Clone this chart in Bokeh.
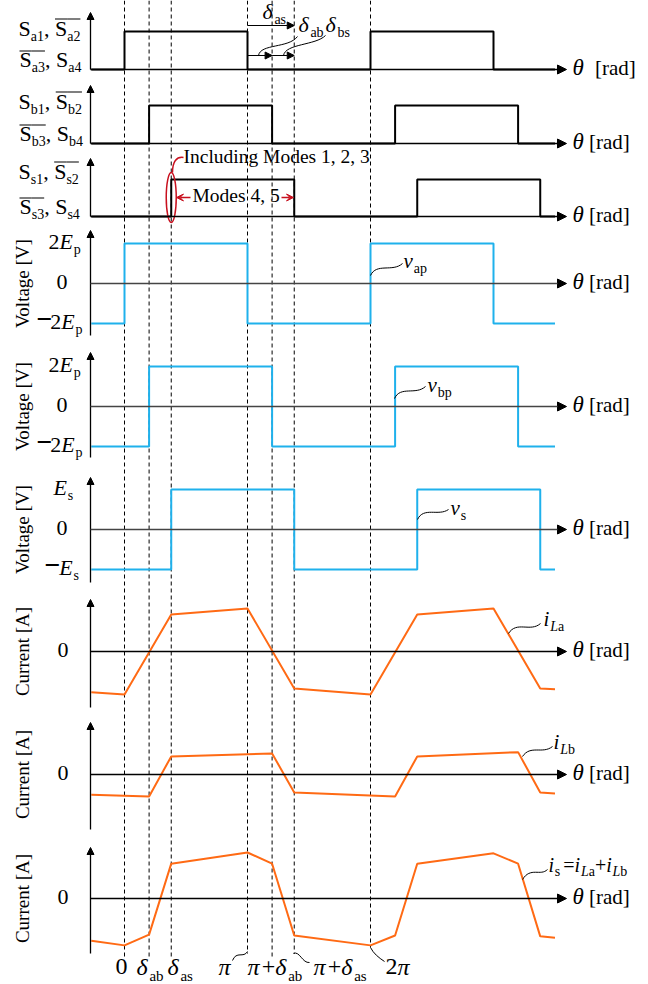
import math
from bokeh.plotting import figure
from bokeh.models import Range1d, Arrow, NormalHead, VeeHead
from bokeh.core.properties import value
from bokeh.embed import file_html
from bokeh.resources import INLINE

# ---------------- data (theta in units of pi) ----------------
D_AB = 0.2
D_AS = 0.38
TH_START = -0.27
TH_END = 3.5

mark_theta = [0, D_AB, D_AS, 1, 1 + D_AB, 1 + D_AS, 2]

sa_edges = [TH_START, 0, 1, 2, 3, TH_END]
sb_edges = [TH_START, D_AB, 1 + D_AB, 2 + D_AB, 3 + D_AB, TH_END]
ss_edges = [TH_START, D_AS, 1 + D_AS, 2 + D_AS, 3 + D_AS, TH_END]
sa_level = [0, 1, 0, 1, 0, 0]
sb_level = [0, 1, 0, 1, 0, 0]
ss_level = [0, 1, 0, 1, 0, 0]

vap_level = [-2, 2, -2, 2, -2, -2]   # multiples of Ep
vbp_level = [-2, 2, -2, 2, -2, -2]   # multiples of Ep
vs_level = [-1, 1, -1, 1, -1, -1]    # multiples of Es

ila_theta = [TH_START, 0, D_AS, 1, 1 + D_AS, 2, 2 + D_AS, 3, 3 + D_AS, TH_END]
ila_val = [-0.95, -1.0, 0.86, 1.0, -0.86, -1.0, 0.86, 1.0, -0.86, -0.88]
ilb_theta = [TH_START, D_AB, D_AS, 1 + D_AB, 1 + D_AS, 2 + D_AB, 2 + D_AS, 3 + D_AB, 3 + D_AS, TH_END]
ilb_val = [-0.47, -0.51, 0.42, 0.49, -0.42, -0.51, 0.42, 0.52, -0.42, -0.44]
is_theta = [TH_START, 0, D_AB, D_AS, 1, 1 + D_AB, 1 + D_AS, 2, 2 + D_AB, 2 + D_AS, 3, 3 + D_AB, 3 + D_AS, TH_END]
is_val = [-0.98, -1.09, -0.84, 0.81, 1.07, 0.81, -0.86, -1.09, -0.86, 0.81, 1.05, 0.81, -0.88, -0.91]

# ---------------- layout ----------------
W, H = 648, 984
X_ZERO_PX, PX_PER_PI = 124.0, 123.0
AXIS_X, ARROW_TIP = 90, 566
FONT = "Liberation Serif"
BLUE = "#1FB1EC"
ORANGE = "#FF6A14"
RED = "#C8101E"
TEXT_SHIFT = 0.4   # baseline correction (fraction of font size)

PANELS = {
    "sa": dict(base=69, amp=38, top=12, bot=69, col="black"),
    "sb": dict(base=143, amp=38, top=85, bot=143, col="black"),
    "ss": dict(base=216, amp=37, top=158, bot=216, col="black"),
    "vap": dict(base=283, amp=20, top=230, bot=335, col="#444444"),
    "vbp": dict(base=406, amp=20, top=352, bot=457, col="#444444"),
    "vs": dict(base=529, amp=40, top=477, bot=582, col="#444444"),
    "ila": dict(base=651, amp=43, top=599, bot=707, col="black"),
    "ilb": dict(base=774, amp=43, top=722, bot=829, col="black"),
    "is": dict(base=898, amp=43, top=847, bot=953, col="black"),
}

p = figure(width=W, height=H, x_range=Range1d(0, W), y_range=Range1d(H, 0),
           output_backend="svg", toolbar_location=None, min_border=0,
           x_axis_location=None, y_axis_location=None, outline_line_color=None)
p.grid.visible = False
p.extra_x_ranges = {"th": Range1d(-X_ZERO_PX / PX_PER_PI, (W - X_ZERO_PX) / PX_PER_PI)}
p.extra_y_ranges = {name: Range1d((sp["base"] - H) / sp["amp"], sp["base"] / sp["amp"])
                    for name, sp in PANELS.items()}

# ---------------- dashed guide lines ----------------
dash_end = [956, 956, 956, 953, 956, 953, 947]
p.segment(x0=mark_theta, y0=[0] * len(mark_theta), x1=mark_theta, y1=dash_end,
          x_range_name="th", line_color="black", line_width=1, line_dash="4 3")

# ---------------- axes ----------------
for name, sp in PANELS.items():
    p.add_layout(Arrow(x_start=AXIS_X, y_start=sp["bot"], x_end=AXIS_X, y_end=sp["top"],
                       line_color="black", line_width=1.3,
                       end=NormalHead(size=7, fill_color="black", line_color="black", line_width=1)))
    p.add_layout(Arrow(x_start=AXIS_X, y_start=sp["base"], x_end=ARROW_TIP, y_end=sp["base"],
                       line_color=sp["col"], line_width=1.3,
                       end=NormalHead(size=9, fill_color="black", line_color="black", line_width=1)))

# ---------------- waveforms ----------------
for edges, lvl, name in [(sa_edges, sa_level, "sa"), (sb_edges, sb_level, "sb"), (ss_edges, ss_level, "ss")]:
    p.step(edges, lvl, mode="after", x_range_name="th", y_range_name=name,
           line_color="black", line_width=2)
for edges, lvl, name in [(sa_edges, vap_level, "vap"), (sb_edges, vbp_level, "vbp"), (ss_edges, vs_level, "vs")]:
    p.step(edges, lvl, mode="after", x_range_name="th", y_range_name=name,
           line_color=BLUE, line_width=2)
for th, val, name in [(ila_theta, ila_val, "ila"), (ilb_theta, ilb_val, "ilb"), (is_theta, is_val, "is")]:
    p.line(th, val, x_range_name="th", y_range_name=name, line_color=ORANGE, line_width=2)

# ---------------- rich text helper ----------------
W_N = {" ": .25, ",": .25, "S": .556, "a": .444, "b": .5, "s": .389, "p": .5, "[": .333,
       "]": .333, "r": .333, "d": .5, "+": .564, "=": .564, "\u2212": .564, "I": .333,
       "n": .5, "c": .444, "l": .278, "u": .5, "i": .278, "g": .5, "M": .889, "o": .5,
       "e": .444, "V": .722, "t": .278, "C": .667, "A": .722}
W_I = {"E": .611, "v": .444, "i": .278, "L": .556, "\u03b8": .5, "\u03b4": .5, "\u03c0": .55, "s": .389}

texts = {}
overbars = dict(x0=[], x1=[], y=[])


def put(x, y, s, size, style="normal", color="black"):
    d = texts.setdefault((size, style, color), dict(x=[], y=[], text=[]))
    d["x"].append(x)
    d["y"].append(y - TEXT_SHIFT * size)
    d["text"].append(s)


def R(t, it=False, sub=False, over=False, bold=False, size=None):
    return dict(t=t, it=it, sub=sub, over=over, bold=bold, size=size)


def GAP(px):
    return dict(gap=px)


def rich(x, y, runs, size, sub_size=None, color="black", ob_dy=18.5):
    sub_size = sub_size or round(size * 0.64)
    cx = x
    for r in runs:
        if "gap" in r:
            cx += r["gap"]
            continue
        sz = r["size"] or (sub_size if r["sub"] else size)
        yy = y + (0.22 * size if r["sub"] else 0)
        style = "bold" if r["bold"] else ("italic" if r["it"] else "normal")
        put(cx, yy, r["t"], sz, style, color)
        tbl = W_I if r["it"] else W_N
        w = sum(tbl.get(c, W_N.get(c, .5)) for c in r["t"]) * sz
        if r["it"] and not r["sub"]:
            w += 0.04 * sz
        if r["over"]:
            overbars["x0"].append(cx)
            overbars["x1"].append(cx + w)
            overbars["y"].append(y - ob_dy)
        cx += w
    return cx


# switch labels
for k, b1, b2 in [("a", 37, 68), ("b", 110, 142), ("s", 180, 215)]:
    rich(18, b1, [R("S"), R(k + "1", sub=True), R(", "), R("S", over=True), R(k + "2", sub=True, over=True)], 22, 14)
    rich(19, b2, [R("S", over=True), R(k + "3", sub=True, over=True), R(", "), R("S"), R(k + "4", sub=True)], 22, 14, ob_dy=17.5)

# voltage tick labels
for name, hi_txt in [("vap", "2"), ("vbp", "2"), ("vs", "")]:
    sp = PANELS[name]
    top_v = 2 if hi_txt else 1
    yh = sp["base"] - top_v * sp["amp"] + 7
    yl = sp["base"] + top_v * sp["amp"] + 7
    sub = "p" if hi_txt else "s"
    if hi_txt:
        rich(48, yh, [R("2"), R("E", it=True), R(sub, sub=True)], 22, 14)
        rich(36, yl, [R("\u2212", bold=True, size=28), GAP(-2), R("2"), R("E", it=True), R(sub, sub=True)], 22, 14)
    else:
        rich(53, yh, [R("E", it=True), R(sub, sub=True)], 22, 14)
        rich(44, yl, [R("\u2212", bold=True, size=28), GAP(-1), R("E", it=True), R(sub, sub=True)], 22, 14)
    rich(56, sp["base"] + 7, [R("0")], 22)

for name in ["ila", "ilb", "is"]:
    rich(57, PANELS[name]["base"] + 7, [R("0")], 22)

# theta labels
for i, (name, sp) in enumerate(PANELS.items()):
    rich(572, sp["base"] + 7, [R("\u03b8", it=True, size=23), GAP(10 if i == 0 else 4), R("[rad]")], 21)

# signal labels
rich(403, 269, [R("v", it=True), R("ap", sub=True)], 21, 14)
rich(427, 393, [R("v", it=True), R("bp", sub=True)], 21, 14)
rich(450, 516, [R("v", it=True), R("s", sub=True)], 21, 14)
rich(543, 627, [R("i", it=True), R("L", it=True, sub=True), R("a", sub=True)], 21, 14)
rich(553, 750, [R("i", it=True), R("L", it=True, sub=True), R("b", sub=True)], 21, 14)
rich(548, 872, [R("i", it=True), R("s", sub=True), GAP(3), R("="), R("i", it=True), R("L", it=True, sub=True),
                R("a", sub=True), R("+"), R("i", it=True), R("L", it=True, sub=True), R("b", sub=True)], 20, 14)

# bottom theta labels
rich(115, 976, [R("0")], 24, 15)
rich(136, 976, [R("\u03b4", it=True), R("ab", sub=True)], 24, 15)
rich(167, 976, [R("\u03b4", it=True), R("as", sub=True)], 24, 15)
rich(218, 976, [R("\u03c0", it=True)], 24, 15)
rich(247, 976, [R("\u03c0", it=True), R("+"), R("\u03b4", it=True), R("ab", sub=True)], 24, 15)
rich(313, 976, [R("\u03c0", it=True), R("+"), R("\u03b4", it=True), R("as", sub=True)], 24, 15)
rich(385, 976, [R("2"), R("\u03c0", it=True)], 24, 15)

# top delta annotations
rich(262, 20, [R("\u03b4", it=True), R("as", sub=True)], 22, 14)
rich(298, 33, [R("\u03b4", it=True), R("ab", sub=True)], 22, 14)
rich(325, 33, [R("\u03b4", it=True), R("bs", sub=True)], 22, 14)

# mode annotations
rich(183, 164, [R("Including Modes 1, 2, 3")], 19.5)
rich(192, 203, [R("Modes 4, 5")], 19.5)

for (size, style, color), d in texts.items():
    p.text(x=d["x"], y=d["y"], text=d["text"], text_font=value(FONT),
           text_font_size=value(f"{size}px"), text_font_style=value(style),
           text_color=color, text_baseline=value("alphabetic"), text_align=value("left"))

p.segment(x0=overbars["x0"], y0=overbars["y"], x1=overbars["x1"], y1=overbars["y"],
          line_color="black", line_width=1.2)

# rotated axis titles
rot_names = ["vap", "vbp", "vs", "ila", "ilb", "is"]
rot_text = ["Voltage [V]"] * 3 + ["Current [A]"] * 3
p.text(x=[22] * 6, y=[PANELS[n]["base"] for n in rot_names], text=rot_text, angle=math.pi / 2,
       text_font=value(FONT), text_font_size=value("19px"), text_color="black",
       text_align=value("center"), text_baseline=value("middle"))

# ---------------- annotation arrows ----------------
p.add_layout(Arrow(x_start=1, y_start=25, x_end=1 + D_AS, y_end=25, x_range_name="th",
                   line_color="black", line_width=1.2,
                   end=NormalHead(size=7, fill_color="black", line_color="black", line_width=1)))
p.add_layout(Arrow(x_start=1, y_start=55, x_end=1 + D_AB, y_end=55, x_range_name="th",
                   line_color="black", line_width=1.2,
                   end=NormalHead(size=7, fill_color="black", line_color="black", line_width=1)))
p.add_layout(Arrow(x_start=1 + D_AB, y_start=55, x_end=1 + D_AS, y_end=55, x_range_name="th",
                   line_color="black", line_width=1.2,
                   end=NormalHead(size=7, fill_color="black", line_color="black", line_width=1)))
p.add_layout(Arrow(x_start=190, y_start=197, x_end=176, y_end=197, line_color=RED, line_width=1.3,
                   end=VeeHead(size=7, fill_color=RED, line_color=RED, line_width=1)))
p.add_layout(Arrow(x_start=281, y_start=197, x_end=293, y_end=197, line_color=RED, line_width=1.3,
                   end=VeeHead(size=7, fill_color=RED, line_color=RED, line_width=1)))

# ---------------- leader curves ----------------
curves = [
    (258, 55, 260, 43, 288, 48, 297, 36),
    (283, 55, 285, 43, 315, 45, 325, 35),
    (370, 275, 376, 262, 392, 272, 402, 263),
    (394, 398, 400, 385, 415, 395, 425, 386),
    (417, 519, 423, 506, 438, 516, 448, 509),
    (508, 633, 516, 620, 530, 632, 540, 623),
    (522, 756, 530, 744, 542, 754, 552, 746),
    (522, 879, 530, 866, 540, 876, 547, 869),
    (232, 960, 236, 950, 243, 958, 247, 951),
    (293, 953, 299, 950, 302, 963, 309, 962),
    (370, 947, 373, 953, 378, 957, 384, 961),
]
p.bezier(x0=[c[0] for c in curves], y0=[c[1] for c in curves],
         cx0=[c[2] for c in curves], cy0=[c[3] for c in curves],
         cx1=[c[4] for c in curves], cy1=[c[5] for c in curves],
         x1=[c[6] for c in curves], y1=[c[7] for c in curves],
         line_color="black", line_width=1)
p.bezier(x0=[172], y0=[172], cx0=[172], cy0=[161], cx1=[176], cy1=[156], x1=[183], y1=[157],
         line_color=RED, line_width=1.5)
p.ellipse(x=[D_AS], y=[197], width=[10], height=[50], width_units="screen", height_units="screen",
          x_range_name="th", fill_color=None, line_color=RED, line_width=1.5)

open("out.html", "w").write(file_html(p, INLINE))
